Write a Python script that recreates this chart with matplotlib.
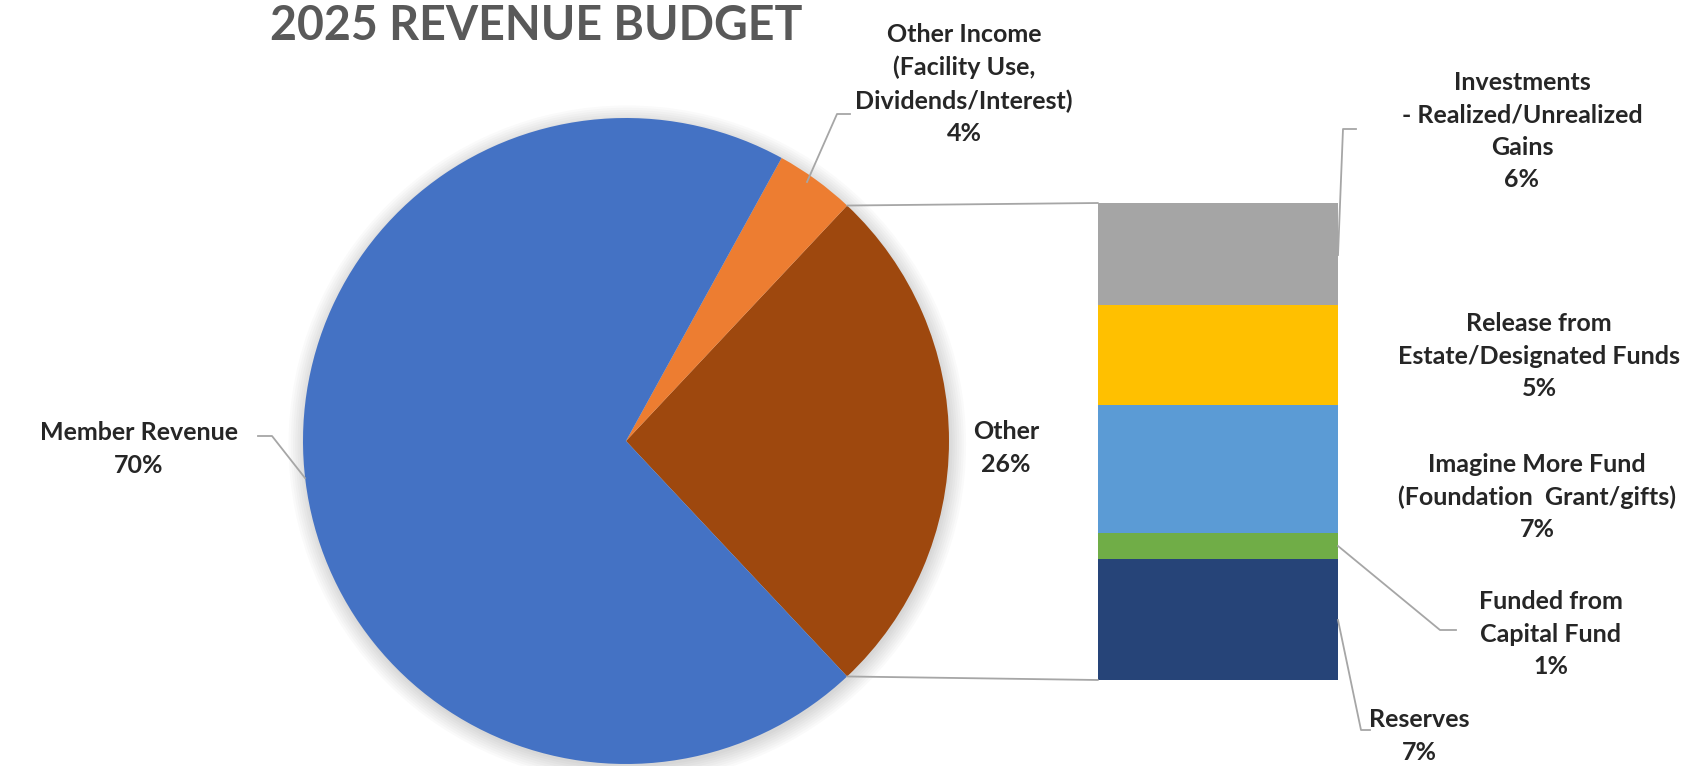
import numpy as np
import matplotlib
matplotlib.use("Agg")
import matplotlib.pyplot as plt
from matplotlib.patches import ConnectionPatch, Circle

plt.rcParams['font.family'] = ['Lato', 'DejaVu Sans']

# pie data (counter-clockwise from the split)
pie_labels = ['Other', 'Other Income\n(Facility Use,\nDividends/Interest)', 'Member Revenue']
pie_values = [26.0, 4.0, 70.0]
pie_colors = ['#9E480E', '#ED7D31', '#4472C4']

# bar data (bottom to top)
bar_labels = ['Reserves', 'Funded from\nCapital Fund',
              'Imagine More Fund\n(Foundation  Grant/gifts)',
              'Release from\nEstate/Designated Funds',
              'Investments\n- Realized/Unrealized\nGains']
bar_values = [6.6, 1.4, 7.0, 5.45, 5.55]
bar_colors = ['#264478', '#70AD47', '#5B9BD5', '#FFC000', '#A5A5A5']

W, H = 1683, 766
fig = plt.figure(figsize=(W / 100, H / 100), dpi=100)

# pie, centre (626, 441) px, radius 323 px
cx, cy, r = 626, 441, 323
pax = fig.add_axes([(cx - r) / W, (H - cy - r) / H, 2 * r / W, 2 * r / H])
half = pie_values[0] / sum(pie_values) * 360 / 2
for k in range(8):
    pax.add_patch(Circle((0.004, -0.01), 1.0 + 0.007 * k, color='k', alpha=0.018,
                         lw=0, clip_on=False, zorder=0))
pax.pie(pie_values, colors=pie_colors, startangle=-half, counterclock=True,
        wedgeprops=dict(linewidth=0))
pax.set_xlim(-1, 1)
pax.set_ylim(-1, 1)
pax.set_aspect('equal')
pax.axis('off')

# stacked bar, x 1098-1338, y 203-680 px
bx0, bx1, by0, by1 = 1098, 1338, 203, 680
bax = fig.add_axes([bx0 / W, (H - by1) / H, (bx1 - bx0) / W, (by1 - by0) / H])
bottom = 0
for v, c in zip(bar_values, bar_colors):
    bax.bar(0, v, width=1, bottom=bottom, color=c, linewidth=0)
    bottom += v
bax.set_xlim(-0.5, 0.5)
bax.set_ylim(0, sum(bar_values))
bax.axis('off')

# connectors pie -> bar
a = np.radians(half)
for sgn, yb in [(1, sum(bar_values)), (-1, 0)]:
    con = ConnectionPatch(xyA=(np.cos(a), sgn * np.sin(a)), coordsA=pax.transData,
                          xyB=(-0.5, yb), coordsB=bax.transData,
                          color='#A6A6A6', lw=1.3)
    fig.add_artist(con)

# overlay for text in pixel coords
ax = fig.add_axes([0, 0, 1, 1])
ax.set_xlim(0, W)
ax.set_ylim(H, 0)
ax.axis('off')
ax.patch.set_alpha(0)

ax.text(536, 26, '2025 REVENUE BUDGET', ha='center', va='center',
        fontsize=33.5, fontweight='bold', color='#595959')

lab = dict(ha='center', va='center', fontsize=18, fontweight='bold',
           color='#262626', linespacing=1.5)

pie_pos = [(1006, 448), (964, 84), (139, 449)]
for name, v, (x, y) in zip(pie_labels, pie_values, pie_pos):
    ax.text(x, y, f'{name}\n{v:.0f}%', **lab)

bar_pos = [(1419, 736), (1551, 634), (1537, 497), (1539, 356), (1522, 131)]
for name, v, (x, y) in zip(bar_labels, bar_values, bar_pos):
    ax.text(x, y, f'{name}\n{v:.0f}%', **lab)

# leader lines
leaders = [
    [(258, 436), (272, 436), (305, 478)],
    [(850, 114), (837, 114), (807, 182)],
    [(1338, 255), (1343, 129), (1356, 129)],
    [(1338, 546), (1440, 630), (1456, 630)],
    [(1338, 620), (1361, 730), (1370, 730)],
]
for pts in leaders:
    xs, ys = zip(*pts)
    ax.plot(xs, ys, color='#A6A6A6', lw=1.3)

fig.savefig('out.png', dpi=100)
